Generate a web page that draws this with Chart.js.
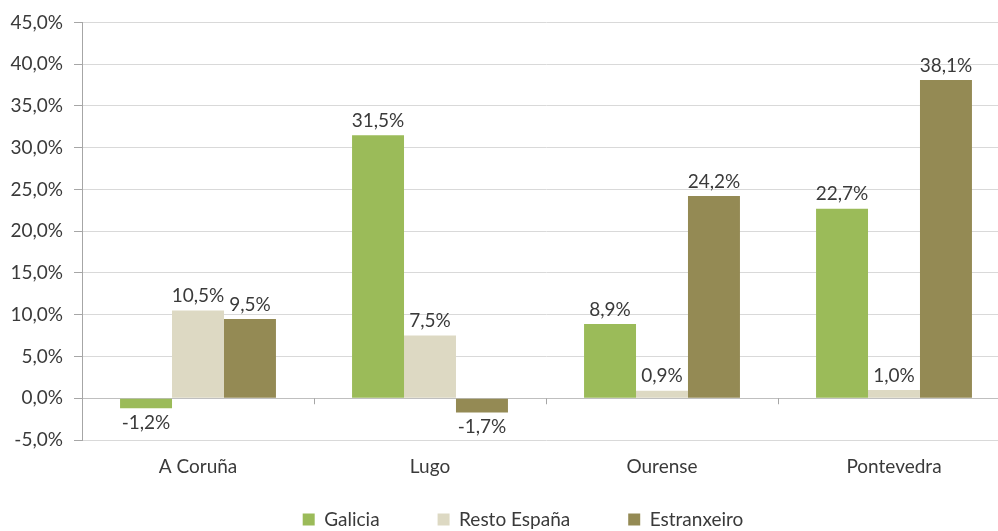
<!DOCTYPE html>
<html>
<head>
<meta charset="utf-8">
<script src="https://cdn.jsdelivr.net/npm/chart.js@4/dist/chart.umd.min.js"></script>
<style>
  html, body { margin: 0; padding: 0; overflow: hidden; background: #fff; width: 998px; height: 531px; }
  canvas { display: block; }
</style>
</head>
<body>
<canvas id="c" width="1012" height="572"></canvas>
<script>
const categories = ["A Coruña", "Lugo", "Ourense", "Pontevedra"];
const seriesNames = ["Galicia", "Resto España", "Estranxeiro"];
const galicia = [-1.2, 31.5, 8.9, 22.7];
const restoEspana = [10.5, 7.5, 0.9, 1.0];
const estranxeiro = [9.5, -1.7, 24.2, 38.1];
const colors = ["#9BBB59", "#DDD9C3", "#948A54"];
const yMin = -5, yMax = 45, yStep = 5;

const FONT = "Lato";
const FS = 19;
const TEXT = "#3a3a3a";

function fmt(v, d) { return v.toFixed(d).replace('.', ',') + '%'; }

const labelPlugin = {
  id: 'valueLabels',
  afterDatasetsDraw(chart) {
    const ctx = chart.ctx;
    ctx.save();
    ctx.font = FS + "px " + FONT;
    ctx.fillStyle = TEXT;
    ctx.textAlign = 'center';
    chart.data.datasets.forEach((ds, di) => {
      const meta = chart.getDatasetMeta(di);
      meta.data.forEach((bar, i) => {
        const v = ds.data[i];
        if (v >= 0) {
          ctx.textBaseline = 'bottom';
          ctx.fillText(fmt(v, 1), bar.x, bar.y - 5);
        } else {
          ctx.textBaseline = 'top';
          ctx.fillText(fmt(v, 1), bar.x, bar.y + 5);
        }
      });
    });
    ctx.restore();
  }
};

const catTicksPlugin = {
  id: 'catTicks',
  afterDraw(chart) {
    const xs = chart.scales.x, ys = chart.scales.y;
    const n = categories.length;
    const step = xs.width / n;
    const y0 = ys.getPixelForValue(0);
    const ctx = chart.ctx;
    ctx.save();
    ctx.strokeStyle = '#A6A6A6';
    ctx.lineWidth = 1;
    for (let i = 0; i <= n; i++) {
      const x = Math.round(xs.getPixelForValue(0) - step / 2 + i * step) + 0.5;
      ctx.beginPath();
      ctx.moveTo(x, y0);
      ctx.lineTo(x, y0 + 6);
      ctx.stroke();
    }
    ctx.restore();
  }
};

// Shift the legend box (Excel centers it slightly right and tucks it under the axis labels)
const legendShiftPlugin = {
  id: 'legendShift',
  afterLayout(chart) {
    const L = chart.legend;
    if (!L) return;
    const dx = 18, dy = -33;
    L.left += dx; L.right += dx;
    L.top += dy; L.bottom += dy;
  }
};

new Chart(document.getElementById('c'), {
  type: 'bar',
  data: {
    labels: categories,
    datasets: [
      { label: seriesNames[0], data: galicia, backgroundColor: colors[0] },
      { label: seriesNames[1], data: restoEspana, backgroundColor: colors[1] },
      { label: seriesNames[2], data: estranxeiro, backgroundColor: colors[2] }
    ]
  },
  options: {
    responsive: false,
    animation: false,
    layout: { padding: { left: 0, right: 2, top: 21, bottom: 0 } },
    datasets: { bar: { categoryPercentage: 0.672, barPercentage: 1.0 } },
    plugins: {
      tooltip: { enabled: false },
      legend: {
        position: 'bottom',
        labels: {
          font: { family: FONT, size: FS },
          color: TEXT,
          boxWidth: 12,
          boxHeight: 12,
          padding: 58
        }
      }
    },
    scales: {
      x: {
        grid: { display: false, drawTicks: false },
        border: { display: false },
        ticks: { font: { family: FONT, size: FS }, color: TEXT, padding: 15 },
        afterFit(s) { s.height = 45; }
      },
      y: {
        min: yMin, max: yMax,
        ticks: {
          stepSize: yStep,
          font: { family: FONT, size: FS },
          color: TEXT,
          padding: 11,
          callback: v => fmt(v, 1)
        },
        grid: {
          color: c => (c.tick && c.tick.value === 0) ? '#BFBFBF' : '#D9D9D9',
          tickColor: '#A6A6A6',
          tickLength: 8
        },
        border: { color: '#A6A6A6' },
        afterFit(s) { s.width = 82; }
      }
    }
  },
  plugins: [labelPlugin, catTicksPlugin, legendShiftPlugin]
});
</script>
</body>
</html>
